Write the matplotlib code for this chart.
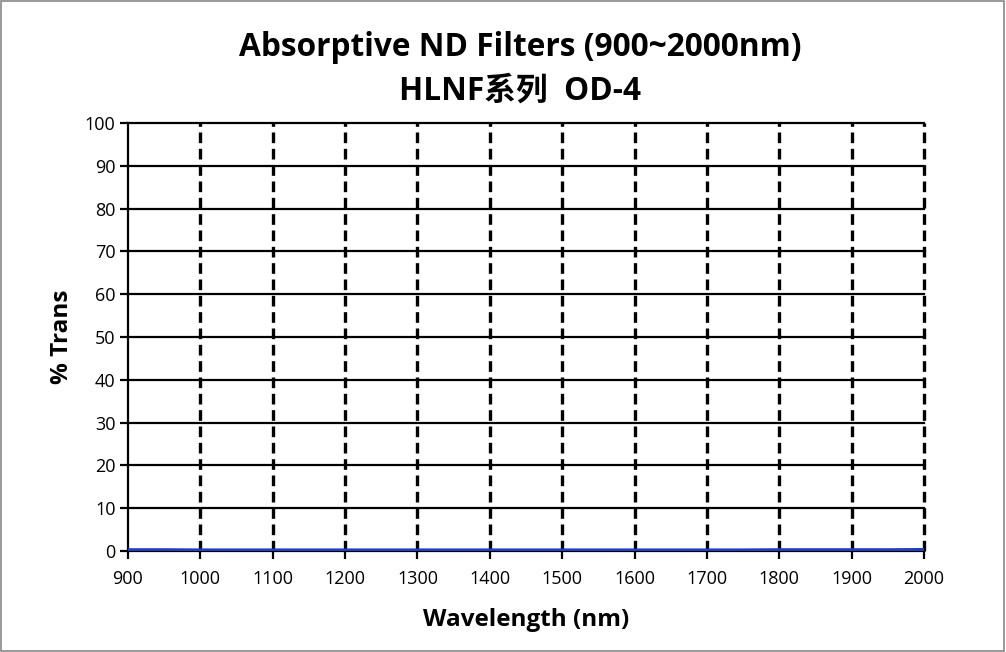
import numpy as np
import matplotlib
matplotlib.use("Agg")
import matplotlib.pyplot as plt

plt.rcParams['font.family'] = ['Open Sans', 'Noto Sans CJK SC', 'DejaVu Sans']

# Данные: длина волны и пропускание (%), OD-4 -> почти ноль
wavelength = [900, 950, 1000, 1050, 1100, 1150, 1200, 1250, 1300, 1350, 1400,
              1450, 1500, 1550, 1600, 1650, 1700, 1750, 1800, 1850, 1900, 1950, 2000]
trans = [0.3, 0.3, 0.25, 0.25, 0.25, 0.25, 0.25, 0.25, 0.25, 0.25, 0.25,
         0.25, 0.25, 0.25, 0.25, 0.25, 0.25, 0.25, 0.3, 0.3, 0.3, 0.3, 0.35]

x_ticks = list(range(900, 2001, 100))
y_ticks = list(range(0, 101, 10))

title_line1 = "Absorptive ND Filters (900~2000nm)"
title_line2 = "HLNF系列  OD-4"

fig = plt.figure(figsize=(10.06, 6.52), dpi=100)
ax = fig.add_axes([0.1272, 0.1549, 0.7913, 0.6564])

ax.plot(wavelength, trans, color='#1f3fbf', linewidth=2.2, zorder=3)

ax.set_xlim(900, 2000)
ax.set_ylim(0, 100)
ax.set_xticks(x_ticks)
ax.set_yticks(y_ticks)

# сетка: горизонтальные сплошные, вертикальные пунктирные
for y in y_ticks[1:]:
    ax.axhline(y, color='black', linewidth=1.6, zorder=1, clip_on=False)
for x in x_ticks[1:]:
    ax.axvline(x, color='black', linewidth=2.4, linestyle=(0, (3.2, 1.7)), zorder=1, clip_on=False)

for side in ['top', 'right']:
    ax.spines[side].set_visible(False)
for side in ['left', 'bottom']:
    ax.spines[side].set_linewidth(1.6)

ax.tick_params(axis='both', direction='out', length=6, width=1.6, labelsize=13)
ax.tick_params(axis='x', pad=8)
ax.tick_params(axis='y', pad=3)

ax.set_xlabel("Wavelength (nm)", fontsize=17.5, fontweight='bold', labelpad=14)
ax.set_ylabel("% Trans", fontsize=17.5, fontweight='bold', labelpad=8)

fig.text(0.517, 0.927, title_line1, ha='center', va='center', fontsize=22.8, fontweight='bold')
fig.text(0.517, 0.86, title_line2, ha='center', va='center', fontsize=22.8, fontweight='bold')

# серая рамка вокруг рисунка
fig.patches.append(plt.Rectangle((0.001, 0.002), 0.997, 0.996, transform=fig.transFigure,
                                 fill=False, edgecolor='#888888', linewidth=1.2))

fig.savefig("out.png", dpi=100)
